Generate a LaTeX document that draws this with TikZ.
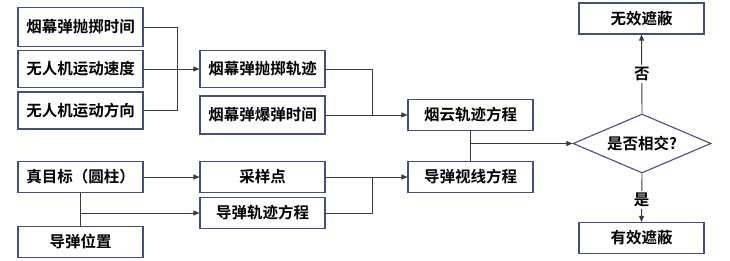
\documentclass[tikz,border=0pt]{standalone}
\usepackage{fontspec}
\setmainfont{Noto Sans CJK SC}[BoldFont={* Bold}]
\usetikzlibrary{shapes.geometric,arrows.meta}
\definecolor{bordc}{HTML}{44507A}
\definecolor{linec}{HTML}{3A3A3A}
\begin{document}
\begin{tikzpicture}[x=1pt,y=-1pt,
  box/.style={draw=bordc,line width=1.1pt,minimum width=125pt,minimum height=31pt,inner sep=0pt,font=\fontsize{15.5}{16}\selectfont\bfseries,text=black},
  dia/.style={diamond,draw=bordc,line width=1.1pt,minimum width=138pt,minimum height=59pt,inner sep=0pt,aspect=2.34,font=\fontsize{15.5}{16}\selectfont\bfseries},
  conn/.style={draw=linec,line width=0.9pt},
  arr/.style={conn,-{Triangle[length=6pt,width=5pt]}},
  lab/.style={font=\fontsize{15.5}{16}\selectfont\bfseries,fill=white,inner sep=2pt}]
\useasboundingbox (0,0) rectangle (730,261);
% left column
\node[box,minimum height=39pt] (a1) at (80.5,27) {烟幕弹抛掷时间};
\node[box,minimum height=37pt] (a2) at (80.5,69) {无人机运动速度};
\node[box,minimum height=37pt] (a3) at (80.5,110.5) {无人机运动方向};
\node[box] (t) at (80.5,177) {真目标（圆柱）};
\node[box] (m) at (80.5,242) {导弹位置};
% middle column
\node[box,minimum height=37pt] (b1) at (262.5,69) {烟幕弹抛掷轨迹};
\node[box,minimum height=38pt] (b2) at (262.5,115) {烟幕弹爆弹时间};
\node[box] (s) at (262.5,177) {采样点};
\node[box] (mt) at (262.5,213) {导弹轨迹方程};
% right column
\node[box] (c1) at (470.5,115) {烟云轨迹方程};
\node[box] (c2) at (470.5,177) {导弹视线方程};
\node[dia] (d) at (642,143.5) {是否相交?};
\node[box] (no) at (641.5,18.5) {无效遮蔽};
\node[box] (yes) at (641.5,238) {有效遮蔽};
% connectors
\coordinate (j1) at (177,69);
\draw[conn] (a1.east) -| (j1);
\draw[conn] (a3.east) -| (j1);
\draw[arr] (a2.east) -- (b1.west);
\coordinate (j2) at (372,115);
\draw[conn] (b1.east) -| (j2);
\draw[arr] (b2.east) -- (c1.west);
\draw[arr] (t.east) -- (s.west);
\draw[conn] (t.south) -- (m.north);
\coordinate (j3) at (80.5,213);
\draw[arr] (j3) -- (mt.west);
\coordinate (j4) at (372,177);
\draw[conn] (mt.east) -| (j4);
\draw[arr] (s.east) -- (c2.west);
\draw[conn] (c1.south) -- (c2.north);
\coordinate (j5) at (470.5,143.5);
\draw[arr] (j5) -- (d.west);
\draw[arr] (d.north) -- node[lab,pos=0.5] {否} (no.south);
\draw[arr] (d.south) -- node[lab,pos=0.55] {是} (yes.north);
\end{tikzpicture}
\end{document}
